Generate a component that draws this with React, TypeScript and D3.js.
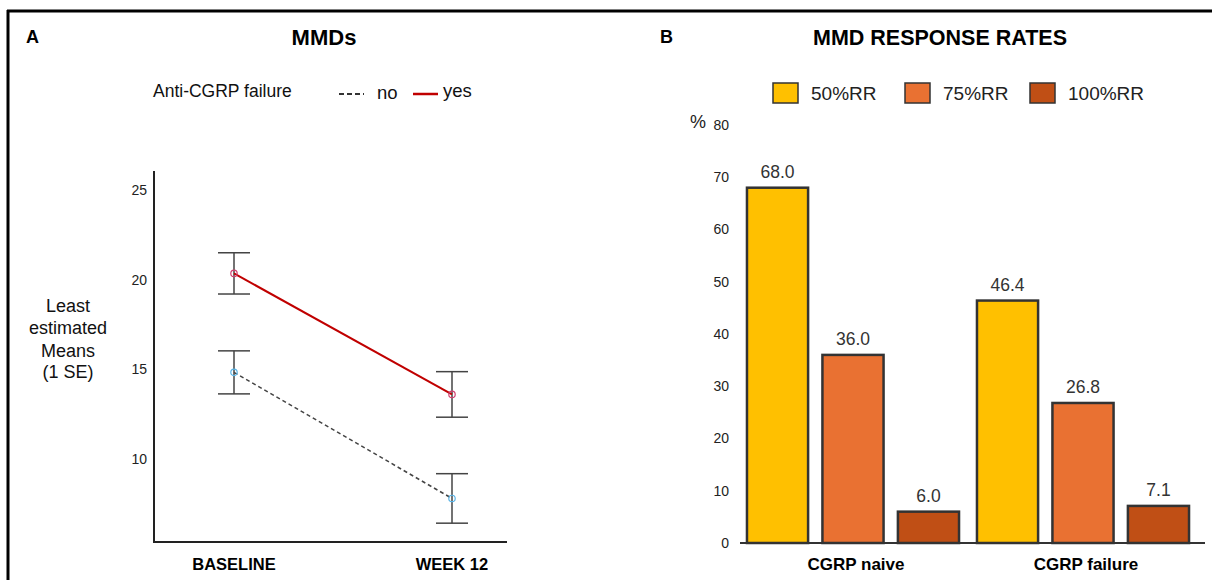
import React, { useEffect } from 'react';
import * as d3 from 'd3';

// panel A: least estimated means of MMDs
const timepoints = ['BASELINE', 'WEEK 12'];
const meansNo = [14.83, 7.8];
const seNo = [1.2, 1.38];
const meansYes = [20.35, 13.6];
const seYes = [1.15, 1.27];
const mmdTicks = [10, 15, 20, 25];

// panel B: response rates
const groups = ['CGRP naive', 'CGRP failure'];
const seriesNames = ['50%RR', '75%RR', '100%RR'];
const rr50 = [68.0, 46.4];
const rr75 = [36.0, 26.8];
const rr100 = [6.0, 7.1];
const rateTicks = [0, 10, 20, 30, 40, 50, 60, 70, 80];
const seriesColors = ['#FFC000', '#E97132', '#C04F15'];

const FONT = '"Liberation Sans", Arial, sans-serif';
const W = 1212;
const H = 581;

const App: React.FC = () => {
  useEffect(() => {
    document.body.style.margin = '0';
  }, []);

  // ---- panel A scales
  const xA = d3.scalePoint<string>().domain(timepoints).range([234, 452]);
  const yA = d3.scaleLinear().domain([5.37, 26.06]).range([542, 171]);
  const axisLeftX = 154;
  const axisRightX = 507;

  const lineA = d3
    .line<number>()
    .x((_, i) => xA(timepoints[i]) as number)
    .y(d => yA(d));

  const lineSeries = [
    { key: 'no', means: meansNo, se: seNo, stroke: '#444', dash: '4,3', width: 1.5, marker: '#5ab4e6' },
    { key: 'yes', means: meansYes, se: seYes, stroke: '#C00000', dash: undefined, width: 2, marker: '#d04070' },
  ];

  // ---- panel B scales
  const x0 = d3.scaleBand<string>().domain(groups).range([738, 1198]).paddingInner(0.078).paddingOuter(0.039);
  const x1 = d3.scaleBand<string>().domain(seriesNames).range([0, x0.bandwidth()]).paddingInner(0.19).paddingOuter(0);
  const yB = d3.scaleLinear().domain([0, 80]).range([543, 125]);
  const seriesValues = [rr50, rr75, rr100];

  const legendB = [
    { x: 773, tx: 811 },
    { x: 905, tx: 943 },
    { x: 1030, tx: 1068 },
  ];

  return (
    <svg width={W} height={H} style={{ position: 'absolute', left: 0, top: 0, background: '#fff' }} fontFamily={FONT}>
      {/* frame */}
      <line x1={7} y1={11} x2={W} y2={11} stroke="#000" strokeWidth={3} />
      <line x1={8} y1={10} x2={8} y2={580} stroke="#000" strokeWidth={3} />

      {/* ================= Panel A ================= */}
      <text x={26} y={43} fontSize={18} fontWeight="bold">A</text>
      <text x={324} y={45} fontSize={22} fontWeight="bold" textAnchor="middle">MMDs</text>

      {/* legend */}
      <text x={153} y={97} fontSize={17.5} fill="#111">Anti-CGRP failure</text>
      <line x1={339} y1={94} x2={364} y2={94} stroke="#333" strokeWidth={2} strokeDasharray="5,3" />
      <text x={377} y={99} fontSize={18.5} fill="#111">no</text>
      <line x1={413} y1={94} x2={438} y2={94} stroke="#C00000" strokeWidth={2.5} />
      <text x={443} y={97} fontSize={18.5} fill="#111">yes</text>

      {/* axes */}
      <line x1={axisLeftX} y1={yA(26.06)} x2={axisLeftX} y2={yA(5.37)} stroke="#222" strokeWidth={2} />
      <line x1={axisLeftX - 1} y1={yA(5.37)} x2={axisRightX} y2={yA(5.37)} stroke="#222" strokeWidth={2} />
      {mmdTicks.map(t => (
        <text key={t} x={147} y={yA(t)} dy="0.35em" fontSize={14} textAnchor="end" fill="#222">{t}</text>
      ))}
      {timepoints.map(t => (
        <text key={t} x={xA(t)} y={570} fontSize={16.5} fontWeight="bold" textAnchor="middle">{t}</text>
      ))}
      <text x={68} fontSize={18} textAnchor="middle" fill="#111">
        <tspan x={68} y={312}>Least</tspan>
        <tspan x={68} y={334}>estimated</tspan>
        <tspan x={68} y={357}>Means</tspan>
        <tspan x={68} y={378}>(1 SE)</tspan>
      </text>

      {/* error bars */}
      {lineSeries.map(s =>
        s.means.map((m, i) => {
          const cx = xA(timepoints[i]) as number;
          const top = yA(m + s.se[i]);
          const bot = yA(m - s.se[i]);
          return (
            <g key={`${s.key}-eb-${i}`} stroke="#444" strokeWidth={1.5}>
              <line x1={cx} x2={cx} y1={top} y2={bot} />
              <line x1={cx - 16} x2={cx + 16} y1={top} y2={top} />
              <line x1={cx - 16} x2={cx + 16} y1={bot} y2={bot} />
            </g>
          );
        })
      )}

      {/* lines + markers */}
      {lineSeries.map(s => (
        <g key={s.key}>
          <path d={lineA(s.means) || ''} fill="none" stroke={s.stroke} strokeWidth={s.width} strokeDasharray={s.dash} />
          {s.means.map((m, i) => (
            <circle key={i} cx={xA(timepoints[i])} cy={yA(m)} r={3.2} fill="none" stroke={s.marker} strokeWidth={1.2} />
          ))}
        </g>
      ))}

      {/* ================= Panel B ================= */}
      <text x={660} y={43} fontSize={18} fontWeight="bold">B</text>
      <text x={940} y={45} fontSize={21.5} fontWeight="bold" textAnchor="middle">MMD RESPONSE RATES</text>

      {seriesNames.map((name, i) => (
        <g key={name}>
          <rect x={legendB[i].x} y={83} width={25} height={20} fill={seriesColors[i]} stroke="#333" strokeWidth={1.5} />
          <text x={legendB[i].tx} y={100} fontSize={19} fill="#222">{name}</text>
        </g>
      ))}

      <text x={690} y={128} fontSize={18} fill="#222">%</text>
      {rateTicks.map(t => (
        <text key={t} x={729} y={yB(t)} dy="0.35em" fontSize={14} textAnchor="end" fill="#222">{t}</text>
      ))}

      {groups.map((g, gi) => (
        <g key={g} transform={`translate(${x0(g)},0)`}>
          {seriesNames.map((sn, si) => {
            const v = seriesValues[si][gi];
            const bx = x1(sn) as number;
            return (
              <g key={sn}>
                <rect
                  x={bx}
                  y={yB(v)}
                  width={x1.bandwidth()}
                  height={yB(0) - yB(v)}
                  fill={seriesColors[si]}
                  stroke="#333"
                  strokeWidth={2.5}
                />
                <text x={bx + x1.bandwidth() / 2} y={yB(v) - 10} fontSize={17.5} textAnchor="middle" fill="#333">
                  {v.toFixed(1)}
                </text>
              </g>
            );
          })}
          <text x={x0.bandwidth() / 2 + 3} y={570} fontSize={17} fontWeight="bold" textAnchor="middle">{g}</text>
        </g>
      ))}
      <line x1={740} y1={yB(0)} x2={1205} y2={yB(0)} stroke="#333" strokeWidth={2} />
    </svg>
  );
};

export default App;
